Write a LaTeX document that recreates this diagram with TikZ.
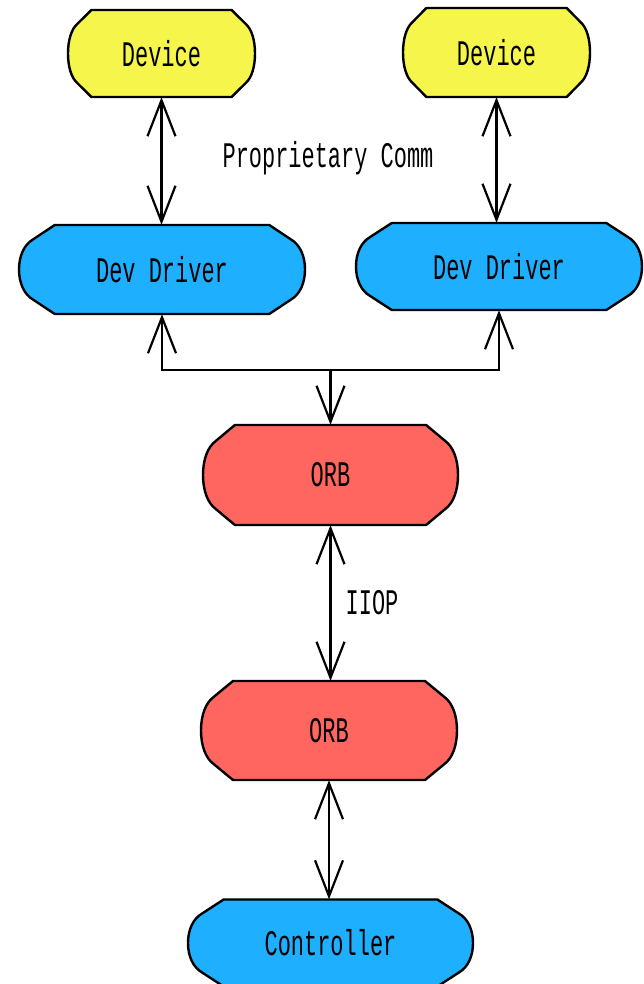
\documentclass[tikz,border=0pt]{standalone}
\usepackage{fontspec}
\newfontfamily\lbl{Liberation Mono}[FakeStretch=0.61]
\usetikzlibrary{arrows.meta}
\definecolor{cyel}{RGB}{245,245,75}
\definecolor{cblu}{RGB}{30,176,255}
\definecolor{cred}{RGB}{255,102,96}
\tikzset{
  txt/.style={font=\lbl\fontsize{36}{40}\selectfont, inner sep=0pt},
  lblbox/.style={txt, rectangle, draw=none},
  shapeline/.style={draw=black, line width=2.4pt, line join=round},
  link/.style={line width=2.2pt, {Straight Barb[length=36pt,width=28pt,line width=2.2pt]}-{Straight Barb[length=36pt,width=28pt,line width=2.2pt]}},
  uparr/.style={line width=2.2pt, {Straight Barb[length=36pt,width=28pt,line width=2.2pt]}-},
  downarr/.style={line width=2.2pt, -{Straight Barb[length=36pt,width=28pt,line width=2.2pt]}},
}
% \blob{name}{cx}{cy}{w}{h}{colour}{text}
\newcommand{\blob}[7]{%
  \begin{scope}[shift={(#2,#3)}, xscale=#4/2, yscale=#5/2]
    \path[shapeline, fill=#6] (-0.75,-1) -- (0.75,-1) -- (0.9,-0.68)
      .. controls (0.965,-0.56) and (1,-0.3) .. (1,0)
      .. controls (1,0.3) and (0.965,0.56) .. (0.9,0.68)
      -- (0.75,1) -- (-0.75,1) -- (-0.9,0.68)
      .. controls (-0.965,0.56) and (-1,0.3) .. (-1,0)
      .. controls (-1,-0.3) and (-0.965,-0.56) .. (-0.9,-0.68) -- cycle;
  \end{scope}
  \node[lblbox, minimum width=#4pt, minimum height=#5pt] (#1) at (#2,#3) {#7};%
}
\begin{document}
\begin{tikzpicture}[x=1pt,y=-1pt]
\useasboundingbox[fill=white] (0,0) rectangle (644,984);
\blob{dev1}{161.5}{53.5}{187}{87}{cyel}{Device}
\blob{dev2}{496.5}{52.5}{187}{89}{cyel}{Device}
\blob{drv1}{162}{269.5}{286}{89}{cblu}{Dev Driver}
\blob{drv2}{499}{266.5}{286}{87}{cblu}{Dev Driver}
\blob{orb1}{330.5}{475}{255}{100}{cred}{ORB}
\blob{orb2}{329}{730.5}{256}{99}{cred}{ORB}
\blob{ctl}{330.5}{943}{285}{87}{cblu}{Controller}
\node[txt] (pc) at (328,158) {Proprietary Comm};
\node[txt] (iiop) at (372,603) {IIOP};
\coordinate (bus) at (330.5,370);
\draw[link] (dev1.south) -- (dev1.south |- drv1.north);
\draw[link] (dev2.south) -- (dev2.south |- drv2.north);
\draw[uparr] (drv1.south) |- (bus);
\draw[uparr] (drv2.south) |- (bus);
\draw[downarr] (bus) -- (orb1.north);
\draw[link] (orb1.south) -- (orb1.south |- orb2.north);
\draw[link] (orb2.south) -- (orb2.south |- ctl.north);
\end{tikzpicture}
\end{document}
